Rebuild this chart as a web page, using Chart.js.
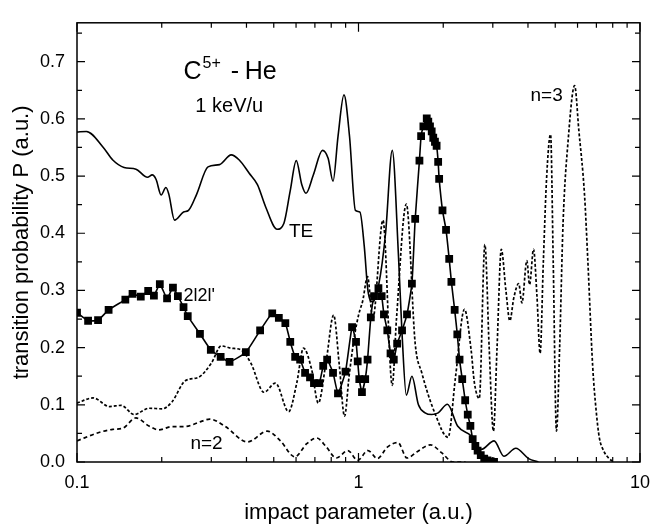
<!DOCTYPE html>
<html>
<head>
<meta charset="utf-8">
<script src="https://cdn.jsdelivr.net/npm/chart.js@4"></script>
<style>
  body { margin: 0; background: #fff; }
  canvas { display: block; }
</style>
</head>
<body>
<canvas id="chart" width="660" height="529"></canvas>
<script>
// impact parameter b (a.u.) and probabilities
const teX = [0.1, 0.108, 0.124, 0.134, 0.147, 0.162, 0.178, 0.185, 0.191, 0.199, 0.207, 0.212, 0.222, 0.239, 0.249, 0.266, 0.292, 0.321, 0.353, 0.377, 0.409, 0.4375, 0.468, 0.514, 0.543, 0.572, 0.601, 0.629, 0.651, 0.691, 0.745, 0.780, 0.812, 0.846, 0.888, 0.929, 0.975, 1.012, 1.048, 1.080, 1.124, 1.180, 1.248, 1.318, 1.387, 1.428, 1.479, 1.548, 1.633, 1.724, 1.820, 1.919, 2.070, 2.249, 2.512, 2.730, 3.031, 3.286, 3.621, 4.020, 4.357];
const teY = [0.577, 0.578, 0.550, 0.528, 0.515, 0.512, 0.498, 0.502, 0.494, 0.467, 0.480, 0.468, 0.423, 0.437, 0.440, 0.468, 0.516, 0.520, 0.537, 0.528, 0.505, 0.485, 0.446, 0.407, 0.417, 0.474, 0.527, 0.485, 0.470, 0.502, 0.545, 0.531, 0.491, 0.570, 0.642, 0.570, 0.440, 0.437, 0.378, 0.300, 0.280, 0.310, 0.400, 0.545, 0.360, 0.224, 0.117, 0.150, 0.100, 0.086, 0.083, 0.086, 0.101, 0.063, 0.046, 0.022, 0.037, 0.010, 0.024, 0.006, 0.0];

const dblX = [0.1, 0.1095, 0.1188, 0.1295, 0.1485, 0.1575, 0.1685, 0.179, 0.1876, 0.1969, 0.2089, 0.2192, 0.2282, 0.239, 0.2474, 0.2734, 0.2988, 0.3238, 0.3483, 0.398, 0.4472, 0.4938, 0.5212, 0.5497, 0.5723, 0.5957, 0.6204, 0.646, 0.6726, 0.6947, 0.7255, 0.7493, 0.7738, 0.812, 0.8455, 0.8992, 0.9489, 0.980, 0.9936, 1.0065, 1.0287, 1.0564, 1.077, 1.1061, 1.1358, 1.1771, 1.2087, 1.2314, 1.2657, 1.2996, 1.3347, 1.3718, 1.428, 1.487, 1.548, 1.590, 1.6463, 1.6689, 1.7003, 1.7476, 1.770, 1.7947, 1.820, 1.8433, 1.869, 1.8945, 1.9187, 1.9343, 1.988, 2.0464, 2.1001, 2.138, 2.196, 2.2439, 2.2856, 2.3362, 2.3933, 2.4441, 2.4977, 2.5447, 2.601, 2.6495, 2.7186, 2.7967, 2.8718, 2.9512, 3.031];
const dblY = [0.261, 0.247, 0.248, 0.266, 0.284, 0.294, 0.289, 0.299, 0.291, 0.311, 0.286, 0.305, 0.290, 0.271, 0.255, 0.224, 0.196, 0.184, 0.175, 0.192, 0.230, 0.260, 0.252, 0.243, 0.210, 0.184, 0.179, 0.156, 0.148, 0.138, 0.138, 0.168, 0.179, 0.156, 0.120, 0.158, 0.236, 0.210, 0.176, 0.145, 0.122, 0.145, 0.179, 0.253, 0.290, 0.304, 0.290, 0.258, 0.230, 0.190, 0.179, 0.207, 0.230, 0.258, 0.312, 0.425, 0.527, 0.570, 0.587, 0.601, 0.595, 0.587, 0.578, 0.567, 0.560, 0.553, 0.525, 0.495, 0.440, 0.406, 0.355, 0.315, 0.266, 0.223, 0.179, 0.145, 0.108, 0.083, 0.063, 0.040, 0.028, 0.020, 0.012, 0.006, 0.003, 0.001, 0.0];

const n3X = [0.1, 0.1141, 0.1305, 0.1434, 0.1597, 0.1802, 0.2006, 0.2174, 0.2423, 0.2697, 0.3003, 0.3254, 0.3528, 0.3824, 0.4145, 0.4618, 0.5071, 0.5649, 0.604, 0.6376, 0.6816, 0.7196, 0.7695, 0.816, 0.8545, 0.892, 0.926, 0.9667, 1.0041, 1.0344, 1.077, 1.124, 1.2215, 1.318, 1.3643, 1.479, 1.590, 1.678, 1.869, 2.080, 2.213, 2.379, 2.512, 2.58, 2.6858, 2.812, 2.912, 3.015, 3.106, 3.216, 3.339, 3.449, 3.562, 3.708, 3.807, 3.964, 4.052, 4.186, 4.305, 4.418, 4.536, 4.659, 4.812, 4.918, 5.050, 5.182, 5.332, 5.551, 5.859, 6.064, 6.351, 6.523, 6.79, 6.986, 7.168, 7.421, 7.770, 8.09];
const n3Y = [0.103, 0.112, 0.097, 0.099, 0.083, 0.094, 0.093, 0.105, 0.142, 0.148, 0.173, 0.203, 0.199, 0.196, 0.173, 0.122, 0.138, 0.088, 0.139, 0.199, 0.162, 0.103, 0.180, 0.257, 0.170, 0.080, 0.150, 0.219, 0.260, 0.281, 0.324, 0.250, 0.423, 0.134, 0.250, 0.451, 0.207, 0.156, 0.085, 0.043, 0.150, 0.267, 0.196, 0.139, 0.111, 0.380, 0.200, 0.054, 0.200, 0.372, 0.300, 0.247, 0.287, 0.312, 0.278, 0.352, 0.310, 0.372, 0.290, 0.190, 0.350, 0.497, 0.573, 0.350, 0.054, 0.200, 0.420, 0.560, 0.658, 0.580, 0.468, 0.355, 0.168, 0.090, 0.043, 0.020, 0.006, 0.0];

const n2X = [0.1, 0.1204, 0.134, 0.1453, 0.1619, 0.1802, 0.1953, 0.2174, 0.2423, 0.2697, 0.2964, 0.3344, 0.4036, 0.4742, 0.528, 0.5943, 0.6548, 0.710, 0.7695, 0.834, 0.9167, 0.9936, 1.080, 1.1679, 1.2657, 1.3806, 1.487, 1.616, 1.8018, 1.977, 2.166, 2.4];
const n2Y = [0.037, 0.052, 0.057, 0.059, 0.077, 0.063, 0.056, 0.062, 0.062, 0.069, 0.075, 0.063, 0.035, 0.054, 0.037, 0.009, 0.032, 0.042, 0.026, 0.007, 0.020, 0.003, 0.020, 0.006, 0.026, 0.034, 0.007, 0.018, 0.030, 0.016, 0.0, 0.0];

const xTicks = [0.1, 1, 10];
const xTickLabels = ["0.1", "1", "10"];
const xMinorTicks = [0.2, 0.3, 0.4, 0.5, 0.6, 0.7, 0.8, 0.9, 2, 3, 4, 5, 6, 7, 8, 9];
const yTicks = [0, 0.1, 0.2, 0.3, 0.4, 0.5, 0.6, 0.7];
const yTickLabels = ["0.0", "0.1", "0.2", "0.3", "0.4", "0.5", "0.6", "0.7"];
const yMinorTicks = [0.05, 0.15, 0.25, 0.35, 0.45, 0.55, 0.65, 0.75];

// curve labels, placed in data coordinates
const notes = [
  { text: "TE", x: 0.566, y: 0.403, size: 19 },
  { text: "2l2l'", x: 0.239, y: 0.291, size: 18 },
  { text: "n=2", x: 0.2528, y: 0.032, size: 19 },
  { text: "n=3", x: 4.085, y: 0.641, size: 19 },
  { text: "1 keV/u", x: 0.2633, y: 0.622, size: 20 },
];

const FONT = "'Liberation Sans', Arial, Helvetica, sans-serif";

const toPoints = (xs, ys) => xs.map((x, i) => ({ x: x, y: ys[i] }));

const frame = {
  id: "frame",
  afterDatasetsDraw(chart) {
    const { ctx, chartArea: a, scales } = chart;
    const x = scales.x;
    const y = scales.y;
    ctx.save();
    ctx.strokeStyle = "#000";
    ctx.lineWidth = 1.5;
    ctx.strokeRect(a.left, a.top, a.right - a.left, a.bottom - a.top);

    ctx.lineWidth = 1.2;
    ctx.beginPath();
    const yTick = (v, len) => {
      const p = y.getPixelForValue(v);
      ctx.moveTo(a.left, p); ctx.lineTo(a.left + len, p);
      ctx.moveTo(a.right, p); ctx.lineTo(a.right - len, p);
    };
    const xTick = (v, len) => {
      const p = x.getPixelForValue(v);
      ctx.moveTo(p, a.bottom); ctx.lineTo(p, a.bottom - len);
      ctx.moveTo(p, a.top); ctx.lineTo(p, a.top + len);
    };
    yTicks.forEach((v) => yTick(v, 8));
    yMinorTicks.forEach((v) => yTick(v, 5));
    xTicks.forEach((v) => xTick(v, 9));
    xMinorTicks.forEach((v) => xTick(v, 5));
    ctx.stroke();

    ctx.fillStyle = "#000";
    ctx.textBaseline = "middle";
    ctx.textAlign = "left";
    notes.forEach((n) => {
      ctx.font = `${n.size}px ${FONT}`;
      ctx.fillText(n.text, x.getPixelForValue(n.x), y.getPixelForValue(n.y));
    });

    // title "C5+ - He" with superscript
    const tx = x.getPixelForValue(0.239);
    const ty = y.getPixelForValue(0.682);
    ctx.font = `25px ${FONT}`;
    ctx.fillText("C", tx, ty);
    const cw = ctx.measureText("C").width;
    ctx.font = `16px ${FONT}`;
    ctx.fillText("5+", tx + cw + 1, ty - 8);
    const sw = ctx.measureText("5+").width;
    ctx.font = `25px ${FONT}`;
    ctx.fillText("-", tx + cw + sw + 11, ty);
    ctx.fillText("He", tx + cw + sw + 25, ty);
    ctx.restore();
  },
};

const lineStyle = {
  borderColor: "#000",
  backgroundColor: "#000",
  borderWidth: 1.6,
  fill: false,
  pointRadius: 0,
  cubicInterpolationMode: "monotone",
};

new Chart(document.getElementById("chart"), {
  type: "line",
  data: {
    datasets: [
      { ...lineStyle, label: "TE", data: toPoints(teX, teY) },
      { ...lineStyle, label: "n=3", data: toPoints(n3X, n3Y), borderDash: [3, 2], borderWidth: 1.7 },
      { ...lineStyle, label: "n=2", data: toPoints(n2X, n2Y), borderDash: [4, 3], borderWidth: 1.7 },
      {
        ...lineStyle,
        label: "2l2l'",
        data: toPoints(dblX, dblY),
        pointRadius: 5.5,
        pointStyle: "rect",
        pointBorderWidth: 0,
        cubicInterpolationMode: "default",
        tension: 0.15,
      },
    ],
  },
  options: {
    responsive: false,
    devicePixelRatio: 1,
    animation: false,
    layout: { padding: { top: 10, right: 12, left: 0, bottom: 0 } },
    plugins: {
      legend: { display: false },
      tooltip: { enabled: false },
    },
    scales: {
      x: {
        type: "logarithmic",
        min: 0.1,
        max: 10,
        afterBuildTicks: (scale) => {
          scale.ticks = xTicks.map((v) => ({ value: v }));
        },
        afterFit: (scale) => {
          scale.height = 67;
        },
        grid: { display: false, drawTicks: false },
        border: { display: false },
        ticks: {
          autoSkip: false,
          maxRotation: 0,
          padding: 10,
          color: "#000",
          font: { family: FONT, size: 18 },
          callback: (value, index) => xTickLabels[index],
        },
        title: {
          display: true,
          text: "impact parameter (a.u.)",
          color: "#000",
          font: { family: FONT, size: 22 },
          padding: { top: 0, bottom: 3 },
        },
      },
      y: {
        type: "linear",
        min: 0,
        max: 0.768,
        afterBuildTicks: (scale) => {
          scale.ticks = yTicks.map((v) => ({ value: v }));
        },
        afterFit: (scale) => {
          scale.width = 77;
        },
        grid: { display: false, drawTicks: false },
        border: { display: false },
        ticks: {
          padding: 12,
          color: "#000",
          font: { family: FONT, size: 18 },
          callback: (value, index) => yTickLabels[index],
        },
        title: {
          display: true,
          text: "transition probability P (a.u.)",
          color: "#000",
          font: { family: FONT, size: 22 },
          padding: { top: 9, bottom: 0 },
        },
      },
    },
  },
  plugins: [frame],
});
</script>
</body>
</html>
